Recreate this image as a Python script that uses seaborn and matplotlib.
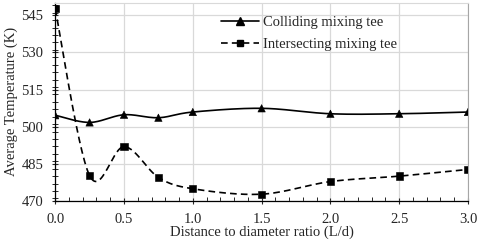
import matplotlib
matplotlib.use('Agg')
import matplotlib.pyplot as plt
import numpy as np
import pandas as pd
import seaborn as sns
from matplotlib.ticker import MultipleLocator

ratio = [0.0, 0.25, 0.5, 0.75, 1.0, 1.5, 2.0, 2.5, 3.0]
colliding = [504.6, 501.7, 504.8, 503.6, 505.9, 507.4, 505.2, 505.2, 505.9]
intersecting = [547.6, 480.2, 491.9, 479.5, 474.9, 472.7, 477.8, 480.0, 482.7]
series_names = ['Colliding mixing tee', 'Intersecting mixing tee']


def smooth(x, y, n=30):
    # excel-like smoothed line: bezier segments with catmull-rom control points
    x = np.asarray(x, float)
    y = np.asarray(y, float)
    px = np.concatenate([[x[0]], x, [x[-1]]])
    py = np.concatenate([[y[0]], y, [y[-1]]])
    t = np.linspace(0, 1, n)[:, None]
    xs, ys = [], []
    for i in range(1, len(px) - 2):
        p0 = np.array([px[i], py[i]])
        p3 = np.array([px[i + 1], py[i + 1]])
        c1 = p0 + (p3 - np.array([px[i - 1], py[i - 1]])) / 6
        c2 = p3 - (np.array([px[i + 2], py[i + 2]]) - p0) / 6
        b = ((1 - t) ** 3) * p0 + 3 * ((1 - t) ** 2) * t * c1 \
            + 3 * (1 - t) * t ** 2 * c2 + t ** 3 * p3
        xs.append(b[:, 0])
        ys.append(b[:, 1])
    return np.concatenate(xs), np.concatenate(ys)


sns.set_style('white')
plt.rcParams['font.family'] = ['Liberation Serif', 'DejaVu Serif']

df = pd.DataFrame({'ratio': ratio * 2,
                   'temp': colliding + intersecting,
                   'series': [series_names[0]] * len(ratio) + [series_names[1]] * len(ratio)})

fig, ax = plt.subplots(figsize=(4.8, 2.4), dpi=100)
fig.subplots_adjust(left=0.115, right=0.975, top=0.988, bottom=0.163)

sx, sy = smooth(ratio, colliding)
ax.plot(sx, sy, color='black', lw=1.2, ls='-')
sx, sy = smooth(ratio, intersecting)
ax.plot(sx, sy, color='black', lw=1.2, ls=(0, (4, 2.5)))

sns.scatterplot(data=df, x='ratio', y='temp', style='series', markers=['^', 's'],
                color='black', s=28, edgecolor='black', legend=False, ax=ax, zorder=3)

# legend handles
ax.plot([], [], color='black', lw=1.2, marker='^', ms=5.5, label=series_names[0])
ax.plot([], [], color='black', lw=1.2, ls=(0, (4, 2.5)), marker='s', ms=5, label=series_names[1])
ax.legend(loc='upper right', bbox_to_anchor=(0.86, 1.0), frameon=False, fontsize=10.5,
          handlelength=2.6, handletextpad=0.3, labelspacing=0.6)

ax.set_xlim(0, 3.0)
ax.set_ylim(470, 550)
ax.set_xticks(np.arange(0, 3.01, 0.5))
ax.set_yticks(np.arange(470, 546, 15))
ax.xaxis.set_minor_locator(MultipleLocator(0.1))
ax.yaxis.set_minor_locator(MultipleLocator(3))
ax.xaxis.set_major_formatter(matplotlib.ticker.FormatStrFormatter('%.1f'))
ax.grid(True, which='major', color='#d9d9d9', lw=0.9)
ax.tick_params(which='major', direction='inout', length=5, width=0.8, labelsize=10.5, pad=6)
ax.tick_params(axis='x', which='minor', direction='in', length=3, width=0.7)
ax.tick_params(axis='y', which='minor', direction='inout', length=4, width=0.7)
ax.tick_params(axis='x', which='both', bottom=True)
ax.tick_params(axis='y', which='both', left=True)

ax.spines['top'].set_color('#d9d9d9')
ax.spines['right'].set_color('#a6a6a6')
for s in ['left', 'bottom']:
    ax.spines[s].set_color('black')
    ax.spines[s].set_linewidth(0.9)

ax.set_xlabel('Distance to diameter ratio (L/d)', fontsize=10.5, labelpad=0)
ax.set_ylabel('Average Temperature (K)', fontsize=10.5, labelpad=2)

fig.savefig('out.png', dpi=100)
